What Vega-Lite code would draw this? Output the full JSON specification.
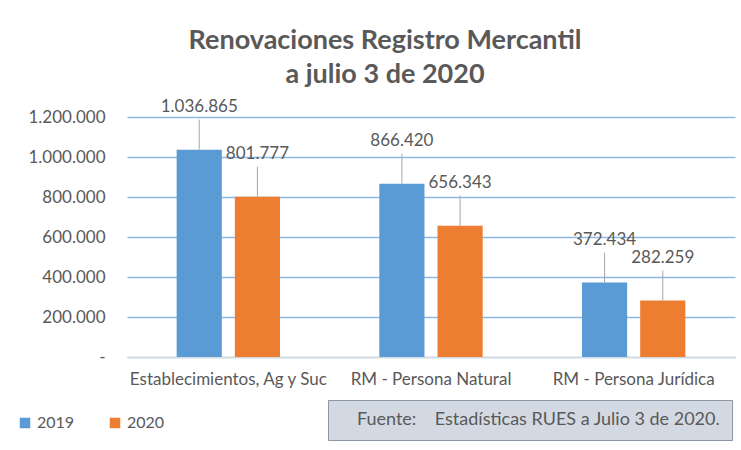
{
  "$schema": "https://vega.github.io/schema/vega-lite/v6.json",
  "width": 608,
  "height": 240,
  "autosize": {"type": "none"},
  "padding": {"left": 127, "top": 117, "right": 6, "bottom": 93},
  "background": "white",
  "config": {
    "locale": {"number": {"decimal": ",", "thousands": ".", "grouping": [3], "currency": ["$", ""]}},
    "view": {"stroke": null},
    "font": "Lato"
  },
  "title": {
    "text": ["Renovaciones Registro Mercantil", "a julio 3 de 2020"],
    "font": "Lato",
    "fontSize": 27,
    "fontWeight": "bold",
    "color": "#595959",
    "anchor": "middle",
    "dx": -46,
    "lineHeight": 34,
    "offset": 9
  },
  "layer": [
    {
      "data": {"name": "main", "values": [
        {"categoria": "Establecimientos, Ag y Suc", "anio": "2019", "valor": 1036865},
        {"categoria": "Establecimientos, Ag y Suc", "anio": "2020", "valor": 801777},
        {"categoria": "RM - Persona Natural", "anio": "2019", "valor": 866420},
        {"categoria": "RM - Persona Natural", "anio": "2020", "valor": 656343},
        {"categoria": "RM - Persona Jurídica", "anio": "2019", "valor": 372434},
        {"categoria": "RM - Persona Jurídica", "anio": "2020", "valor": 282259}
      ]},
      "encoding": {
        "x": {"field": "categoria", "type": "nominal", "sort": null,
          "scale": {"paddingInner": 0.49, "paddingOuter": 0.245},
          "axis": {"title": null, "labelAngle": 0, "labelFontSize": 17, "labelColor": "#595959", "labelPadding": 14, "ticks": false, "domainColor": "#D9D9D9", "labelLimit": 300}},
        "xOffset": {"field": "anio", "type": "nominal", "scale": {"paddingInner": 0.224, "paddingOuter": 0}},
        "y": {"field": "valor", "type": "quantitative",
          "scale": {"domain": [0, 1200000]},
          "axis": {"title": null, "values": [0, 200000, 400000, 600000, 800000, 1000000, 1200000], "format": ",d",
            "labelExpr": "datum.value == 0 ? '-' : datum.label", "labelFontSize": 17, "labelColor": "#595959",
            "labelOverlap": false, "labelPadding": 22, "ticks": false, "domain": false,
            "grid": true, "gridColor": "#8DB9E2", "gridOpacity": 1, "gridWidth": 1.5}}
      },
      "layer": [
        {
          "mark": {"type": "bar"},
          "encoding": {
            "color": {"field": "anio", "type": "nominal",
              "scale": {"domain": ["2019", "2020"], "range": ["#5B9BD5", "#ED7D31"]},
              "legend": {"orient": "none", "legendX": -110, "legendY": 298, "direction": "horizontal", "title": null,
                "symbolType": "square", "symbolSize": 110, "labelFontSize": 16, "labelColor": "#595959", "columnPadding": 32}}
          }
        },
        {
          "mark": {"type": "rule", "color": "#A6A6A6", "strokeWidth": 1, "y2Offset": -30},
          "encoding": {
            "y2": {"field": "valor"}
          }
        },
        {
          "mark": {"type": "text", "dy": -38, "baseline": "alphabetic", "fontSize": 17, "color": "#595959"},
          "encoding": {
            "text": {"field": "valor", "type": "quantitative", "format": ",d"}
          }
        }
      ]
    },
    {
      "data": {"values": [{"fuente": "Fuente:\u00a0\u00a0\u00a0\u00a0Estadísticas RUES a Julio 3 de 2020."}]},
      "mark": {"type": "point", "opacity": 0},
      "encoding": {
        "shape": {"field": "fuente", "type": "nominal",
          "legend": {"orient": "none", "legendX": 201, "legendY": 283, "title": null, "symbolSize": 0, "symbolOpacity": 0,
            "symbolStrokeWidth": 0, "labelOffset": 0, "labelFontSize": 18, "labelColor": "#595959", "labelLimit": 600,
            "fillColor": "#D3D9E2", "strokeColor": "#8C97A6", "padding": 11}}
      }
    }
  ]
}
